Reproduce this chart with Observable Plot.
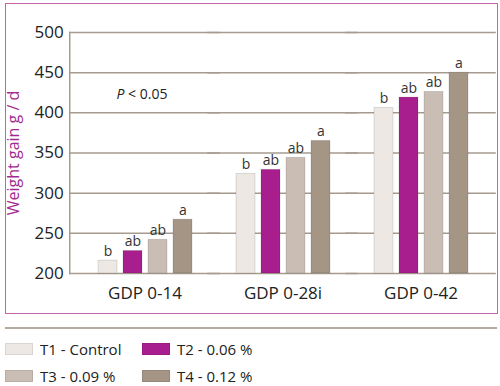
<!DOCTYPE html>
<html><head><meta charset="utf-8">
<script src="https://cdn.jsdelivr.net/npm/d3@7"></script>
<script src="https://cdn.jsdelivr.net/npm/@observablehq/plot@0.6"></script>
<style>
body{margin:0;background:#fff;font-family:"Open Sans",sans-serif;}
#wrap{position:relative;width:500px;height:386px;overflow:hidden;}
#chart{position:absolute;left:0;top:0;}
#frame{position:absolute;left:5px;top:3px;width:491px;height:309px;border:1px solid #c664aa;pointer-events:none;}
#sep{position:absolute;left:5px;top:327px;width:492px;height:2px;background:#b4aaa0;}
.item{position:absolute;display:flex;align-items:center;font-size:15px;color:#222;white-space:nowrap;}
.sw{width:28px;height:12px;margin-right:7px;box-sizing:border-box;border:1px solid rgba(0,0,0,0.08);}
</style>
</head><body>
<div id="wrap"><div id="chart"></div><div id="frame"></div><div id="sep"></div><div id="legend"></div></div>
<script>
// Data
const groups = ["GDP 0-14", "GDP 0-28i", "GDP 0-42"];
const treatKeys = ["T1", "T2", "T3", "T4"];
const treatLabels = ["T1 - Control", "T2 - 0.06 %", "T3 - 0.09 %", "T4 - 0.12 %"];
const t1 = [216, 324, 406];
const t2 = [228, 329, 419];
const t3 = [242, 344, 426];
const t4 = [267, 365, 450];
const sig = ["b", "ab", "ab", "a"]; // letters per treatment (same in each group)
const yTicks = [200, 250, 300, 350, 400, 450, 500];
const colors = ["#ede8e3", "#a91e8e", "#c9bdb4", "#a49585"];
const pText = "P < 0.05";
const pY = 423;

const series = [t1, t2, t3, t4];
const rows = groups.flatMap((g, i) => treatKeys.map((t, j) => ({group: g, t, value: series[j][i], sig: sig[j]})));

const W = 500, ML = 68, MR = 3, PI = 0.31, PO = 0.2;
const step = (W - ML - MR) / (groups.length - PI + 2 * PO);
const ext = -PO * step; // extend gridlines across the gaps between facets

const grid = "#a69b8e";
const chart = Plot.plot({
  width: W,
  height: 316,
  marginLeft: ML,
  marginRight: MR,
  marginTop: 32,
  marginBottom: 43,
  style: {fontFamily: "Open Sans, sans-serif", background: "transparent"},
  fx: {domain: groups, paddingInner: PI, paddingOuter: PO, label: null},
  x: {domain: treatKeys, paddingInner: 0.26, paddingOuter: 0, axis: null},
  y: {domain: [200, 500], label: "Weight gain g / d"},
  color: {domain: treatKeys, range: colors},
  marks: [
    Plot.ruleY(yTicks, {stroke: grid, strokeWidth: 1.5, insetLeft: ext, insetRight: ext}),
    Plot.frame({anchor: "left", fx: () => groups[0], insetLeft: ext, stroke: grid, strokeWidth: 1.5}),
    Plot.axisY({ticks: yTicks, tickSize: 0, tickPadding: 6 - ext, fontSize: 17, label: "Weight gain g / d", labelAnchor: "center", labelOffset: 62 - ext, labelArrow: "none", color: "#222"}),
    Plot.axisFx({anchor: "bottom", tickSize: 0, tickPadding: 13, fontSize: 17, label: null, color: "#222"}),
    Plot.barY(rows, {fx: "group", x: "t", y1: 200, y2: "value", fill: "t", stroke: "rgba(0,0,0,0.12)", strokeWidth: 1}),
    Plot.text(rows, {fx: "group", x: "t", y: "value", text: "sig", dy: -9, fontSize: 14, fill: "#333"}),
    Plot.text([pText], {fx: () => groups[0], y: () => pY, text: d => d, dx: -3, fontSize: 14, fill: "#222"})
  ]
});
document.getElementById("chart").appendChild(chart);

// Style the y label purple
const yl = chart.querySelector('[aria-label="y-axis label"]');
if (yl) { yl.setAttribute("fill", "#a3288f"); yl.setAttribute("font-size", 16); yl.querySelectorAll("text").forEach(t => { t.setAttribute("fill", "#a3288f"); t.setAttribute("font-size", 16); }); }
// Italic P
chart.querySelectorAll("text").forEach(t => {
  if (t.textContent === pText) {
    t.textContent = "";
    const ns = "http://www.w3.org/2000/svg";
    const a = document.createElementNS(ns, "tspan"); a.setAttribute("font-style", "italic"); a.textContent = "P";
    const b = document.createElementNS(ns, "tspan"); b.textContent = pText.slice(1);
    t.appendChild(a); t.appendChild(b);
  }
});

// Legend
const legend = document.getElementById("legend");
const pos = [[5, 343], [142, 343], [5, 370], [142, 370]];
treatLabels.forEach((lab, i) => {
  const it = document.createElement("div");
  it.className = "item";
  it.style.left = pos[i][0] + "px";
  it.style.top = (pos[i][1] - 5) + "px";
  it.style.height = "22px";
  const sw = document.createElement("span");
  sw.className = "sw"; sw.style.background = colors[i];
  const tx = document.createElement("span"); tx.textContent = lab;
  it.appendChild(sw); it.appendChild(tx);
  legend.appendChild(it);
});
</script>
</body></html>
